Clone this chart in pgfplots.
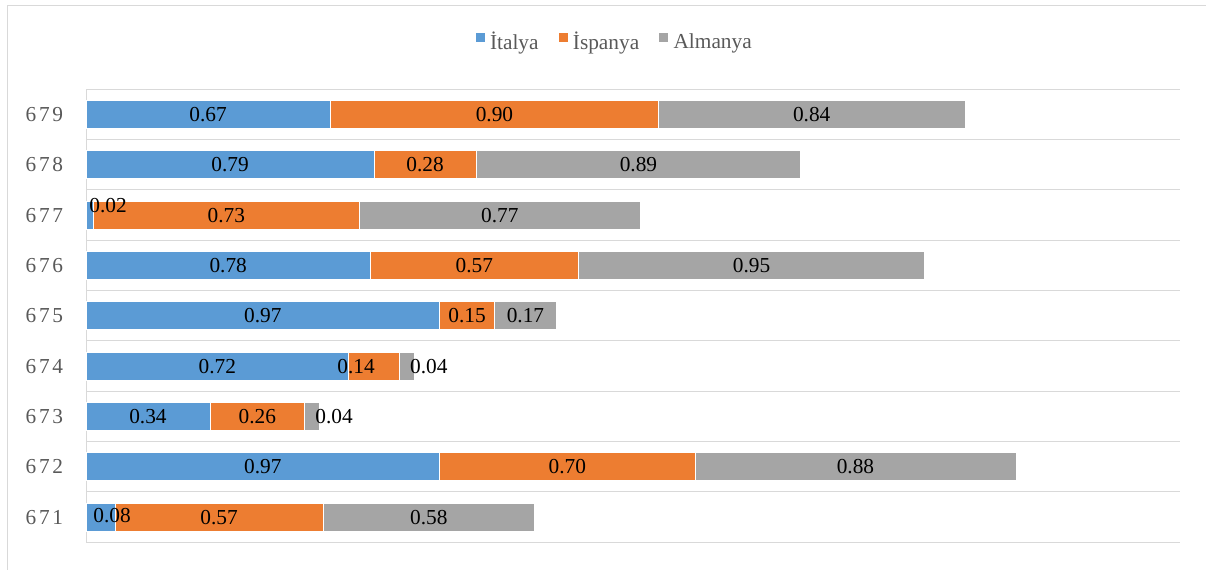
\documentclass[border=0pt]{standalone}
\usepackage{pgfplots}
\pgfplotsset{compat=1.18}
\usepackage{pgfplotstable}
\usepackage{fontspec}
\setmainfont{Liberation Serif}
\definecolor{cA}{HTML}{5B9BD5}
\definecolor{cB}{HTML}{ED7D31}
\definecolor{cC}{HTML}{A5A5A5}
\definecolor{gridgray}{HTML}{D9D9D9}
\definecolor{ticktext}{HTML}{595959}
\newcommand{\chartfont}{\fontsize{16}{19}\selectfont}

% y = category position (1 = 671 ... 9 = 679), v = value, dx/dy = label offset in pt
\pgfplotstableread{
y v dx dy
1 0.08 8.6 1.5
2 0.97 0 0
3 0.34 0 0
4 0.72 0 0
5 0.97 0 0
6 0.78 0 0
7 0.02 13.8 7.5
8 0.79 0 0
9 0.67 0 0
}\tItalya
\pgfplotstableread{
y v dx dy
1 0.57 0 0
2 0.70 0 0
3 0.26 0 0
4 0.14 -13.5 0
5 0.15 0 0
6 0.57 0 0
7 0.73 0 0
8 0.28 0 0
9 0.90 0 0
}\tIspanya
\pgfplotstableread{
y v dx dy
1 0.58 0 0
2 0.88 0 0
3 0.04 16.5 0
4 0.04 16.5 0
5 0.17 0 0
6 0.95 0 0
7 0.77 0 0
8 0.89 0 0
9 0.84 0 0
}\tAlmanya

\begin{document}
\begin{tikzpicture}
\useasboundingbox (0,0) rectangle (904.5pt,427.5pt);
\draw[gridgray, line width=0.75pt] (5.5pt,0) -- (5.5pt,423.4pt) -- (904.5pt,423.4pt);
\begin{axis}[
  at={(64.5pt,20.8pt)}, anchor=south west,
  x=273.5pt, y=37.75pt,
  xmin=0, xmax=3, ymin=0.5, ymax=9.5,
  xbar stacked, bar width=21pt,
  axis x line=none,
  axis y line*=left,
  y axis line style={draw=gridgray, line width=0.75pt, -},
  ytick={1,...,9},
  yticklabels={6\kern2pt7\kern2pt1,6\kern2pt7\kern2pt2,6\kern2pt7\kern2pt3,6\kern2pt7\kern2pt4,6\kern2pt7\kern2pt5,6\kern2pt7\kern2pt6,6\kern2pt7\kern2pt7,6\kern2pt7\kern2pt8,6\kern2pt7\kern2pt9},
  major tick length=0pt, minor tick length=0pt,
  minor ytick={0.5,1.5,...,9.5},
  yminorgrids=true,
  minor grid style={draw=gridgray, line width=0.75pt},
  yticklabel style={font=\chartfont, text=ticktext, inner sep=0pt, anchor=east, xshift=-17pt},
  clip=false,
  point meta=explicit,
  visualization depends on={\thisrow{dx} \as \sx},
  visualization depends on={\thisrow{dy} \as \sy},
  nodes near coords={\pgfmathprintnumber[fixed, fixed zerofill, precision=2, assume math mode=true]{\pgfplotspointmeta}},
  every node near coord/.append style={anchor=center, xshift=\sx pt, yshift=\sy pt, font=\chartfont, text=black, inner sep=0pt},
  legend style={draw=none, fill=none, legend columns=-1, at={(rel axis cs:0.4836,1)}, anchor=center, yshift=35.5pt, font=\chartfont, text=ticktext,
    /tikz/every odd column/.append style={column sep=2pt},
    /tikz/every even column/.append style={column sep=13pt}},
  legend image code/.code={\draw[#1, draw=none] (0pt,-0.25pt) rectangle (6.75pt,6.5pt);},
]
\addplot[fill=cA, draw=white, line width=0.5pt] table[x=v, y=y, meta=v] {\tItalya};
\addplot[fill=cB, draw=white, line width=0.5pt] table[x=v, y=y, meta=v] {\tIspanya};
\addplot[fill=cC, draw=white, line width=0.5pt] table[x=v, y=y, meta=v] {\tAlmanya};
\legend{İtalya, İspanya, Almanya}
\end{axis}
\end{tikzpicture}
\end{document}
